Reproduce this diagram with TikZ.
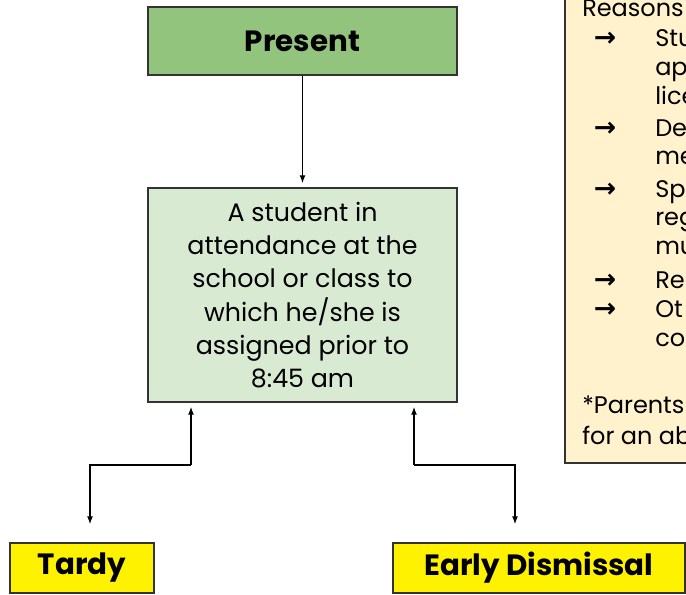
\documentclass[tikz,border=0pt]{standalone}
\usepackage{fontspec}
\setmainfont{Poppins}
\newfontfamily\symfont{DejaVu Sans}
\usetikzlibrary{arrows.meta}
\definecolor{presentgreen}{HTML}{93C47D}
\definecolor{palegreen}{HTML}{D9EAD3}
\definecolor{notecream}{HTML}{FFF2CC}
\definecolor{edgegray}{HTML}{333333}

\begin{document}
\begin{tikzpicture}[x=0.75pt,y=-0.75pt,
  box/.style={draw=edgegray,line width=1.1pt,inner sep=0pt,align=center},
  flow/.style={draw=black,line width=1pt,-{Latex[length=6pt,width=4.5pt]}},
  notetext/.style={anchor=base west,inner sep=0pt,font=\fontsize{18}{23}\selectfont},
  notearrow/.style={anchor=base,inner sep=0pt,font=\symfont\bfseries\fontsize{20}{23}\selectfont}]
\useasboundingbox (0,0) rectangle (686,595);
\clip (0,0) rectangle (686,595);
% note on the right, cut by the page edge
\draw[edgegray,line width=1.1pt,fill=notecream] (565,-10) rectangle (720,463);
\node[notetext] (head) at (582,17) {Reasons f};
\node[notearrow] (bulleta) at (605,47) {→};
\node[notetext] (linea) at (655,47) {Stu};
\node[notetext] (lineb) at (655,76) {app};
\node[notetext] (linec) at (655,105) {lice};
\node[notearrow] (bulletb) at (605,137) {→};
\node[notetext] (lined) at (655,137) {De};
\node[notetext] (linee) at (655,165) {me};
\node[notearrow] (bulletc) at (605,198) {→};
\node[notetext] (linef) at (655,198) {Sp};
\node[notetext] (lineg) at (655,226) {reg};
\node[notetext] (lineh) at (655,255) {mu};
\node[notearrow] (bulletd) at (605,289) {→};
\node[notetext] (linei) at (655,289) {Re};
\node[notearrow] (bullete) at (605,318) {→};
\node[notetext] (linej) at (655,318) {Ot};
\node[notetext] (linek) at (655,347) {co};
\node[notetext] (foota) at (582,414) {*Parents};
\node[notetext] (footb) at (582,445) {for an ab};
% boxes
\node[box,fill=presentgreen,minimum width=231.75pt,minimum height=51pt,
  font=\fontsize{22}{26}\selectfont\bfseries] (present) at (302.5,41) {Present};
\node[box,fill=palegreen,minimum width=231.75pt,minimum height=160.5pt,
  font=\fontsize{19}{25}\selectfont] (meaning) at (302.5,295)
  {A student in\\attendance at the\\school or class to\\which he/she is\\assigned prior to\\8:45 am};
\node[box,fill=yellow,minimum width=108pt,minimum height=37.5pt,
  font=\fontsize{22}{26}\selectfont\bfseries] (tardy) at (82,568) {Tardy};
\node[box,fill=yellow,minimum width=219pt,minimum height=37.5pt,
  font=\fontsize{22}{26}\selectfont\bfseries] (early) at (539,568) {Early Dismissal};
% connectors
\coordinate (tardyturn) at (191,465);
\coordinate (tardydrop) at (90,465);
\coordinate (earlyturn) at (414,465);
\coordinate (earlydrop) at (515,465);
\draw[flow,shorten >=3pt] (present.south) -- (meaning.north);
\draw[flow,shorten >=3pt] (tardyturn) -- (tardyturn |- meaning.south);
\draw[flow,shorten >=13.5pt] (tardyturn) -- (tardydrop) -- (tardydrop |- tardy.north);
\draw[flow,shorten >=3pt] (earlyturn) -- (earlyturn |- meaning.south);
\draw[flow,shorten >=13.5pt] (earlyturn) -- (earlydrop) -- (earlydrop |- early.north);
\end{tikzpicture}
\end{document}
